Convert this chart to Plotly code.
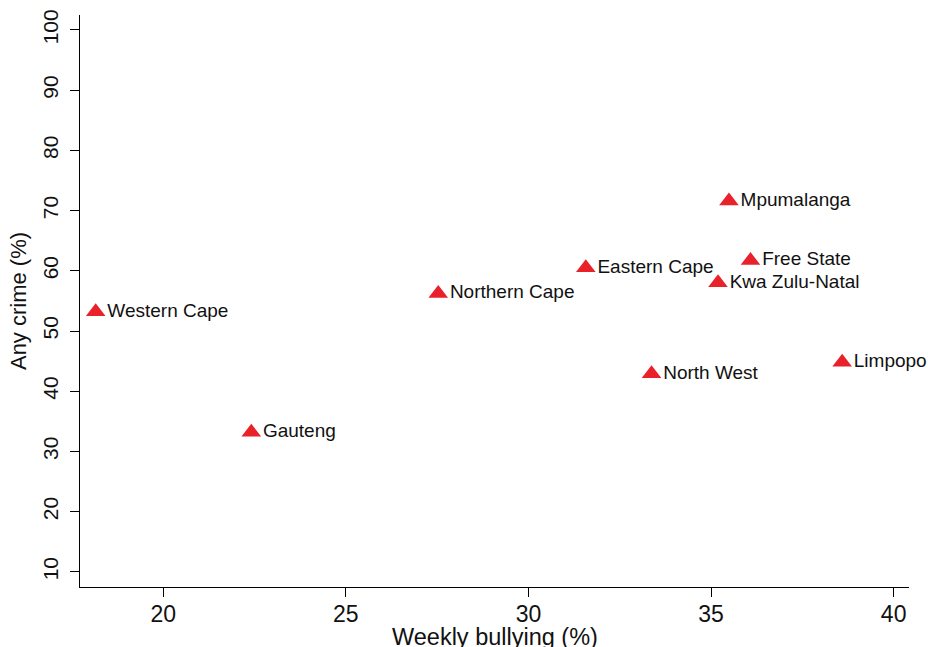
import plotly.graph_objects as go

provinces = ["Western Cape", "Gauteng", "Northern Cape", "Eastern Cape", "North West",
             "Kwa Zulu-Natal", "Mpumalanga", "Free State", "Limpopo"]
weekly_bullying = [18.15, 22.41, 27.53, 31.57, 33.37, 35.19, 35.49, 36.08, 38.59]
any_crime = [53.2, 33.2, 56.25, 60.5, 42.9, 58.0, 71.6, 61.7, 44.8]

x_ticks = [20, 25, 30, 35, 40]
y_ticks = [10, 20, 30, 40, 50, 60, 70, 80, 90, 100]

FONT = "Liberation Sans, Arial, Helvetica, sans-serif"

fig = go.Figure()
fig.add_trace(go.Scatter(
    x=weekly_bullying, y=any_crime, mode="markers+text",
    text=provinces, textposition="middle right",
    textfont=dict(family=FONT, size=19, color="#111111"),
    marker=dict(symbol="triangle-up", size=17, color="#e8212b", line=dict(width=0)),
    cliponaxis=False, showlegend=False,
))

fig.update_layout(
    width=928, height=647,
    margin=dict(l=80, r=19, t=15, b=60),
    paper_bgcolor="white", plot_bgcolor="white",
    font=dict(family=FONT, color="#111111"),
    annotations=[dict(
        text="Weekly bullying (%)", xref="paper", yref="paper",
        x=0.5, y=-0.062, xanchor="center", yanchor="top", showarrow=False,
        font=dict(size=23.5, family=FONT, color="#111111"),
    )],
)
fig.update_xaxes(
    range=[17.72, 40.42], tickvals=x_ticks, ticks="outside", ticklen=9, tickwidth=1.3,
    tickcolor="black", showline=True, linecolor="black", linewidth=1.3, automargin=False,
    showgrid=False, zeroline=False, tickfont=dict(size=23, family=FONT),
    ticklabelstandoff=-3,
)
fig.update_yaxes(
    range=[7.48, 102.49], tickvals=y_ticks, ticks="outside", ticklen=9, tickwidth=1.3,
    tickcolor="black", showline=True, linecolor="black", linewidth=1.3, automargin=False,
    showgrid=False, zeroline=False, tickangle=-90, tickfont=dict(size=21, family=FONT),
    ticklabelstandoff=3,
    title=dict(text="Any crime (%)", font=dict(size=22, family=FONT), standoff=6),
)

fig.write_html("out.html", config={"displayModeBar": False},
               post_script="document.body.style.margin='0';")
